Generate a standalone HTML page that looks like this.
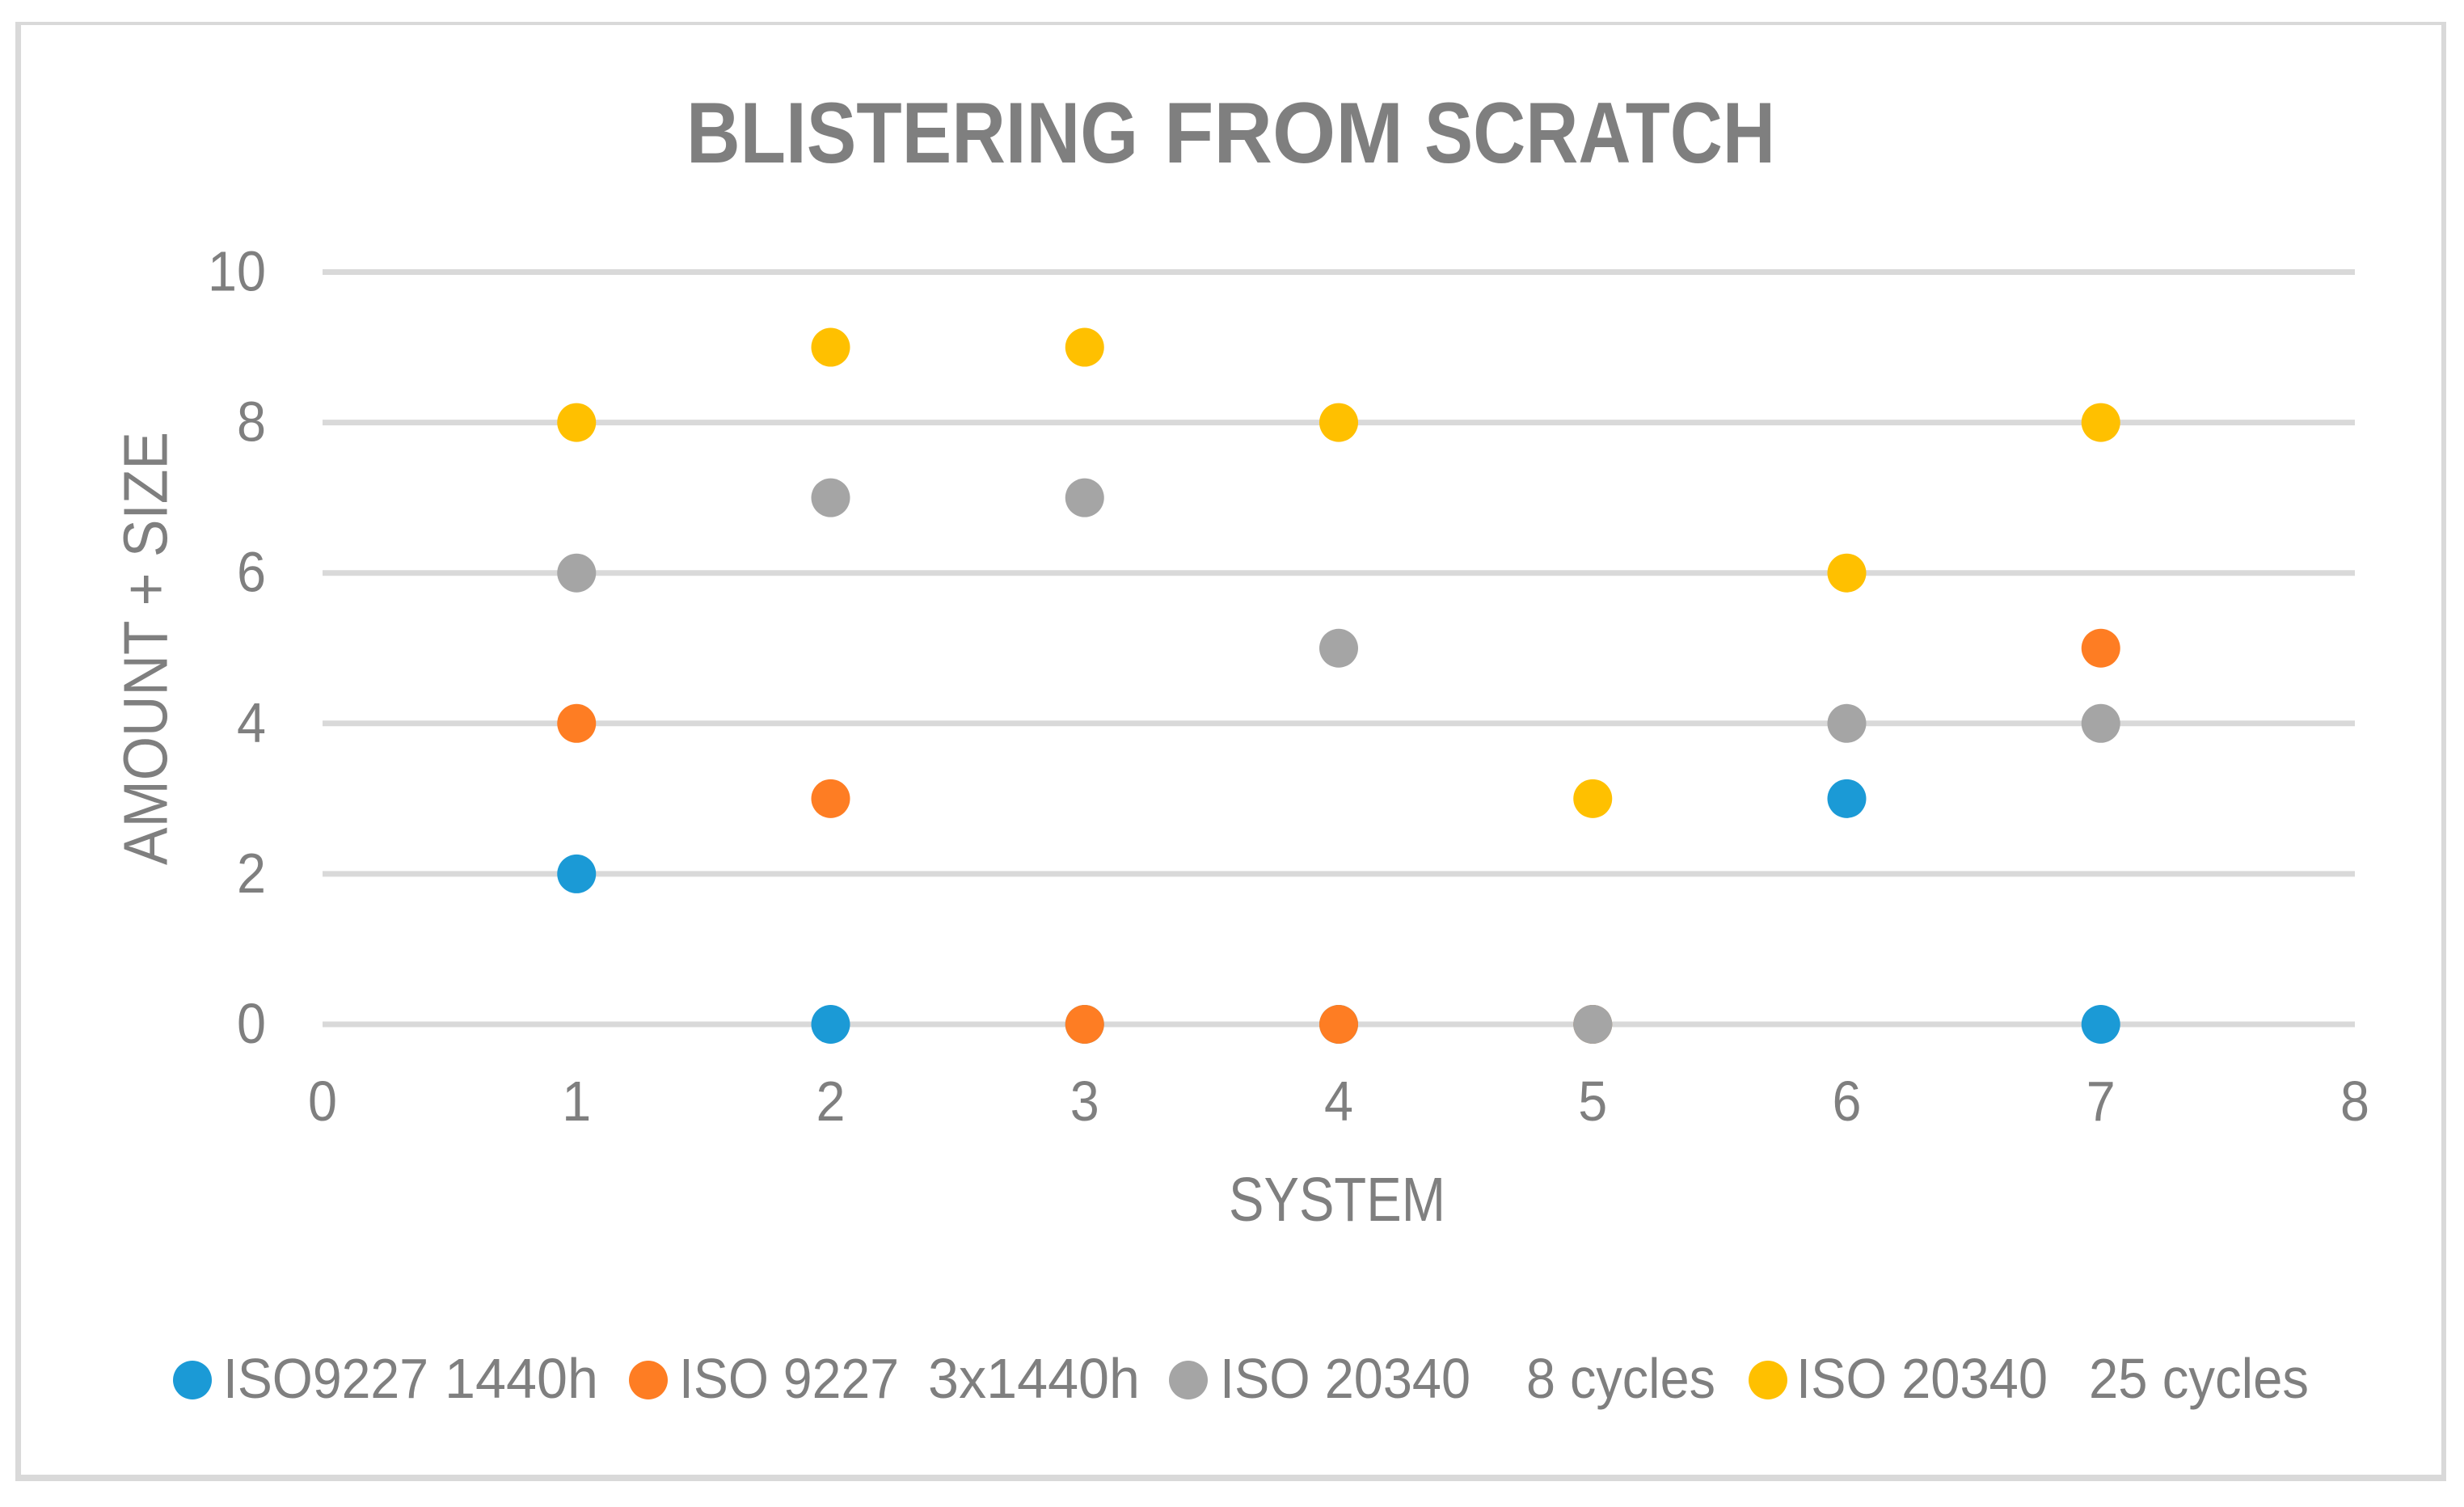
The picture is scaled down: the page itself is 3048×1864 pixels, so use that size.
<!DOCTYPE html>
<html lang="en">
<head>
<meta charset="utf-8">
<title>Blistering from scratch</title>
<style>
  html, body { margin: 0; padding: 0; background: #ffffff; }
  svg { display: block; }
  text { font-family: "Liberation Sans", sans-serif; fill: #7f7f7f; white-space: pre; }
</style>
</head>
<body>
<svg id="chart" xmlns="http://www.w3.org/2000/svg" width="3048" height="1864" viewBox="0 0 3048 1864">
  <rect x="0" y="0" width="3048" height="1864" fill="#ffffff"/>
  <g fill="#d9d9d9">
    <rect x="19" y="27" width="7" height="1805"/>
    <rect x="3020" y="27" width="6" height="1805"/>
    <rect x="19" y="27" width="3007" height="4"/>
    <rect x="19" y="1824" width="3007" height="8"/>
  </g>
  <g font-size="107" font-weight="700">
    <text x="849" y="201" textLength="559" lengthAdjust="spacingAndGlyphs">BLISTERING</text>
    <text x="1440" y="201" textLength="296" lengthAdjust="spacingAndGlyphs">FROM</text>
    <text x="1762" y="201" textLength="434" lengthAdjust="spacingAndGlyphs">SCRATCH</text>
  </g>
  <text transform="translate(206.5 1070) rotate(-90)" x="0" y="0" font-size="77" textLength="536" lengthAdjust="spacingAndGlyphs">AMOUNT + SIZE</text>
  <text x="1520" y="1510" font-size="77" textLength="268" lengthAdjust="spacingAndGlyphs">SYSTEM</text>
  <g id="gridlines"></g>
  <g id="y-ticks"></g>
  <g id="x-ticks"></g>
  <g id="points"></g>
  <g font-size="70">
    <g>
      <circle cx="238" cy="1707" r="24" fill="#1b9ad6"/>
      <text x="276" y="1729" textLength="254" lengthAdjust="spacingAndGlyphs">ISO9227</text>
      <text x="550" y="1729" textLength="190" lengthAdjust="spacingAndGlyphs">1440h</text>
    </g>
    <g>
      <circle cx="802" cy="1707" r="24" fill="#fe7d23"/>
      <text x="840" y="1729" textLength="272" lengthAdjust="spacingAndGlyphs">ISO 9227</text>
      <text x="1148" y="1729" textLength="262" lengthAdjust="spacingAndGlyphs">3x1440h</text>
    </g>
    <g>
      <circle cx="1470" cy="1707" r="24" fill="#a5a5a5"/>
      <text x="1509" y="1729" textLength="310" lengthAdjust="spacingAndGlyphs">ISO 20340</text>
      <text x="1888" y="1729" textLength="234" lengthAdjust="spacingAndGlyphs">8 cycles</text>
    </g>
    <g>
      <circle cx="2187" cy="1707" r="24" fill="#ffc000"/>
      <text x="2222" y="1729" textLength="311" lengthAdjust="spacingAndGlyphs">ISO 20340</text>
      <text x="2584" y="1729" textLength="272" lengthAdjust="spacingAndGlyphs">25 cycles</text>
    </g>
  </g>
</svg>
<script>
const systems = [1, 2, 3, 4, 5, 6, 7];
const iso9227_1440h = [2, 0, 0, 0, 0, 3, 0];
const iso9227_3x1440h = [4, 3, 0, 0, 0, null, 5];
const iso20340_8cycles = [6, 7, 7, 5, 0, 4, 4];
const iso20340_25cycles = [8, 9, 9, 8, 3, 6, 8];
const yTickLabels = [0, 2, 4, 6, 8, 10];
const xTickLabels = [0, 1, 2, 3, 4, 5, 6, 7, 8];

const SVG_NS = 'http://www.w3.org/2000/svg';
const plotLeft = 399, plotRight = 2913, plotBottom = 1267, plotTop = 336.5;
const xMin = 0, xMax = 8, yMin = 0, yMax = 10;

function xScale(v) {
  return plotLeft + (v - xMin) / (xMax - xMin) * (plotRight - plotLeft);
}
function yScale(v) {
  return plotBottom - (v - yMin) / (yMax - yMin) * (plotBottom - plotTop);
}

const gridGroup = document.getElementById('gridlines');
const yTickGroup = document.getElementById('y-ticks');
const xTickGroup = document.getElementById('x-ticks');
const pointGroup = document.getElementById('points');

yTickLabels.forEach(function (t) {
  const line = document.createElementNS(SVG_NS, 'line');
  
  
  line.setAttribute('x1', xScale(xMin));
  line.setAttribute('x2', xScale(xMax));
  line.setAttribute('y1', yScale(t));
  line.setAttribute('y2', yScale(t));
  line.setAttribute('stroke', '#d9d9d9');
  line.setAttribute('stroke-width', '7');
  gridGroup.appendChild(line);

  const label = document.createElementNS(SVG_NS, 'text');
  
  
  label.setAttribute('x', '329');
  label.setAttribute('y', yScale(t) + 23);
  label.setAttribute('font-size', '70');
  label.setAttribute('text-anchor', 'end');
  label.setAttribute('textLength', String(t).length * 36);
  label.setAttribute('lengthAdjust', 'spacingAndGlyphs');
  label.textContent = String(t);
  yTickGroup.appendChild(label);
});

xTickLabels.forEach(function (t) {
  const label = document.createElementNS(SVG_NS, 'text');
  
  
  label.setAttribute('x', xScale(t));
  label.setAttribute('y', '1386');
  label.setAttribute('font-size', '70');
  label.setAttribute('text-anchor', 'middle');
  label.setAttribute('textLength', String(t).length * 36);
  label.setAttribute('lengthAdjust', 'spacingAndGlyphs');
  label.textContent = String(t);
  xTickGroup.appendChild(label);
});

function drawSeries(values, color, name) {
  values.forEach(function (v, i) {
    if (v === null) return;
    const dot = document.createElementNS(SVG_NS, 'circle');
    
    
    dot.setAttribute('cx', xScale(systems[i]));
    dot.setAttribute('cy', yScale(v));
    dot.setAttribute('r', '24');
    dot.setAttribute('fill', color);
    pointGroup.appendChild(dot);
  });
}

drawSeries(iso9227_1440h, '#1b9ad6', 'iso9227-1440h');
drawSeries(iso9227_3x1440h, '#fe7d23', 'iso9227-3x1440h');
drawSeries(iso20340_8cycles, '#a5a5a5', 'iso20340-8-cycles');
drawSeries(iso20340_25cycles, '#ffc000', 'iso20340-25-cycles');
</script>
</body>
</html>
